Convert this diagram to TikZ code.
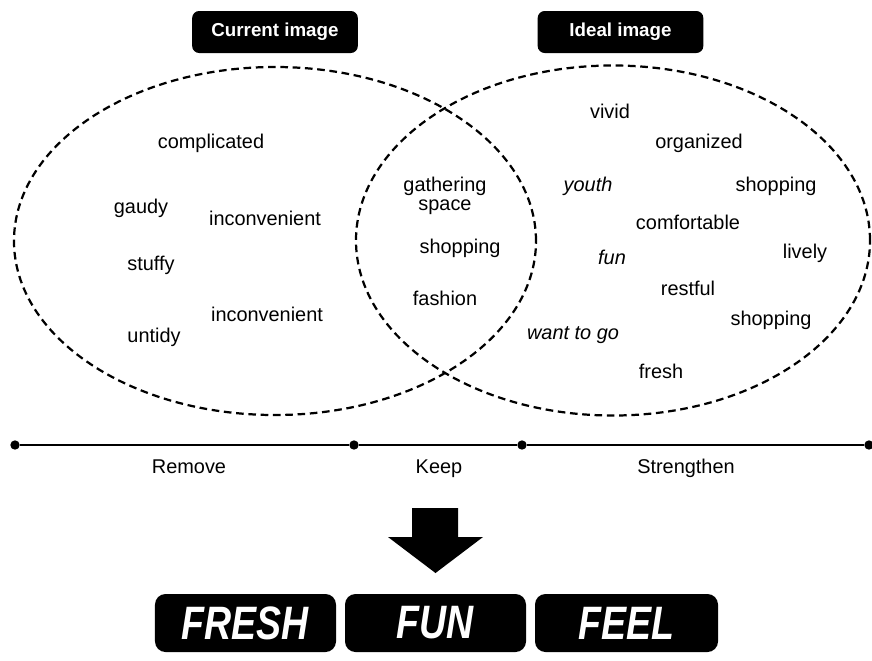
\documentclass[tikz,border=0pt]{standalone}
\usepackage{fontspec}
\setmainfont{Liberation Sans}
\newfontfamily\bigfont[FakeStretch=0.8]{Liberation Sans}
\usetikzlibrary{shapes.geometric}

\begin{document}
\begin{tikzpicture}[x=0.03cm, y=-0.03cm, thick]
      \tikzset{
        word/.style={inner sep=1pt, text height=12pt, text depth=4pt, yshift=-2.5pt, font=\fontsize{17}{17}\selectfont},
        slant/.style={word, font=\fontsize{17}{17}\selectfont\itshape},
        tag/.style={fill=black, rounded corners=6pt, text=white, minimum width=4.97cm, minimum height=1.26cm, font=\fontsize{16}{16}\selectfont\bfseries},
        bigtag/.style={fill=black, rounded corners=9pt, text=white, minimum width=5.43cm, minimum height=1.74cm, font=\fontsize{40}{40}\bigfont\bfseries\itshape},
        dot/.style={circle, fill=black, inner sep=0pt, minimum size=8pt},
        set/.style={draw, ellipse, inner sep=0pt, line width=1.9pt, dash pattern=on 6.5pt off 4pt}
      }
      \useasboundingbox (0,0) rectangle (872,660);

      % Define coordinates
      \coordinate (left_set) at (275, 241);
      \coordinate (right_set) at (613, 240.5);

      % Draw the two sets
      \node[set, minimum width=15.66cm, minimum height=10.44cm] (current) at (left_set) {};
      \node[set, minimum width=15.42cm, minimum height=10.5cm] (ideal) at (right_set) {};

      % Titles above the sets
      \node[tag] (current_tag) at (275, 32) {Current image};
      \node[tag] (ideal_tag) at (620.5, 32) {Ideal image};

      % Words of the current image
      \node[word] (complicated) at (211, 141) {complicated};
      \node[word] (gaudy) at (141, 206) {gaudy};
      \node[word] (inconv_a) at (265, 218) {inconvenient};
      \node[word] (stuffy) at (151, 263) {stuffy};
      \node[word] (inconv_b) at (267, 314) {inconvenient};
      \node[word] (untidy) at (154, 335) {untidy};

      % Words in both
      \node[word, text height=, text depth=, yshift=2.5pt, align=center] (gathering) at (445, 196) {gathering\\[-1pt]space};
      \node[word] (shop_mid) at (460, 246) {shopping};
      \node[word] (fashion) at (445, 298) {fashion};

      % Words of the ideal image
      \node[word] (vivid) at (610, 111) {vivid};
      \node[word] (organized) at (699, 141) {organized};
      \node[slant] (youth) at (588, 184) {youth};
      \node[word] (shop_a) at (776, 184) {shopping};
      \node[word] (comfortable) at (688, 222) {comfortable};
      \node[word] (lively) at (805, 251) {lively};
      \node[slant] (fun) at (612, 257) {fun};
      \node[word] (restful) at (688, 288) {restful};
      \node[word] (shop_b) at (771, 318) {shopping};
      \node[slant] (want) at (573, 332) {want to go};
      \node[word] (fresh) at (661, 371) {fresh};

      % Draw the scale below
      \node[dot] (p0) at (15, 445) {};
      \node[dot] (p1) at (354, 445) {};
      \node[dot] (p2) at (522, 445) {};
      \node[dot] (p3) at (869, 445) {};
      \draw[line width=1.8pt] (p0) -- (p1) -- (p2) -- (p3);

      \node[word] (remove) at (189, 466) {Remove};
      \node[word] (keep) at (439, 466) {Keep};
      \node[word] (strengthen) at (686, 466) {Strengthen};

      % Big arrow down
      \fill (412, 508) -- (458, 508) -- (458, 537) -- (483, 537) -- (435.5, 573)
        -- (388, 537) -- (412, 537) -- cycle;

      % Result boxes
      \node[bigtag] (fresh_tag) at (245.5, 623) {FRESH};
      \node[bigtag] (fun_tag) at (435.5, 623) {FUN};
      \node[bigtag, minimum width=5.49cm] (feel_tag) at (626.5, 623) {FEEL};
\end{tikzpicture}
\end{document}
